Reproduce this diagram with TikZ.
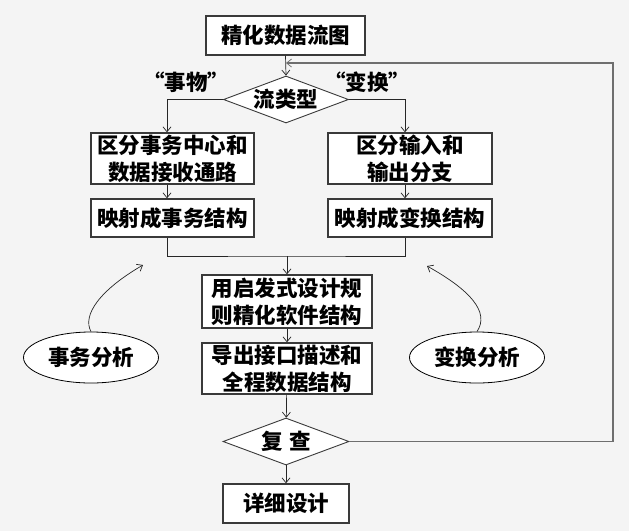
\documentclass[tikz,border=0pt]{standalone}
\usepackage{fontspec}
\usetikzlibrary{arrows.meta,shapes.geometric}
\newfontfamily\cjk{Noto Sans CJK SC}
\definecolor{Backdrop}{HTML}{F4F4F4}
\definecolor{BoxLine}{HTML}{3A3A3A}
\definecolor{LoopLine}{HTML}{6E6E6E}

\begin{document}
\begin{tikzpicture}[x=1pt,y=-1pt,font=\cjk\bfseries\fontsize{21.5pt}{27pt}\selectfont,>={Straight Barb[length=5pt,width=8pt]},box/.style={draw=BoxLine,line width=1.3pt,fill=white,inner sep=0pt,align=center},choice/.style={diamond,draw=BoxLine,line width=0.9pt,fill=white,inner sep=0pt,aspect=2.66},oval/.style={ellipse,draw=black,line width=0.8pt,fill=white,minimum width=135pt,minimum height=51pt},flow/.style={->,line width=0.7pt,draw=black!85}]
\fill[Backdrop] (0,0) rectangle (629,531);
\node[box,minimum width=159pt,minimum height=39pt] (dfd) at (285.5,35.5){精化数据流图};
\node[choice,minimum width=125pt,minimum height=47pt] (kind) at (286,99.5){流类型};
\node (qtx) at (186,82){“事物”};
\node (qtf) at (367,82){“变换”};
\node[box,minimum width=163pt,minimum height=51pt] (txsplit) at (172.5,158.5){区分事务中心和\\数据接收通路};
\node[box,minimum width=164pt,minimum height=51pt] (iosplit) at (410,158.5){区分输入和\\输出分支};
\node[box,minimum width=163pt,minimum height=38pt] (txmap) at (172.5,218){映射成事务结构};
\node[box,minimum width=164pt,minimum height=38pt] (tfmap) at (410,218){映射成变换结构};
\node[box,minimum width=170pt,minimum height=53pt] (refine) at (287,301.5){用启发式设计规\\则精化软件结构};
\node[box,minimum width=170pt,minimum height=51pt] (iface) at (287,368.5){导出接口描述和\\全程数据结构};
\node[choice,minimum width=126pt,minimum height=47pt] (review) at (286,441.5){复\hspace{7pt}查};
\node[box,minimum width=126pt,minimum height=39pt] (detail) at (286,503.5){详细设计};
\node[oval] (txa) at (91,357.5){事务分析};
\node[oval] (tfa) at (477,357.5){变换分析};
\coordinate (join) at (287,256);
\coordinate (loop) at (613,63);
\coordinate (txaTip) at (143,265);
\coordinate (tfaTip) at (427,266);
% main flow
\draw[flow] (dfd.south) -- (kind.north);
\draw[flow] (kind.west) -| ([xshift=-5.5pt]txsplit.north);
\draw[flow] (kind.east) -| ([xshift=-5pt]iosplit.north);
\draw[flow] ([xshift=-5.5pt]txsplit.south) -- ([xshift=-5.5pt]txmap.north);
\draw[flow] ([xshift=-5pt]iosplit.south) -- ([xshift=-5pt]tfmap.north);
\draw[line width=0.7pt,draw=black!85] ([xshift=-5.5pt]txmap.south) |- (join) -| ([xshift=-5pt]tfmap.south);
\draw[flow] (join) -- (refine.north);
\draw[flow] (refine) -- (iface);
\draw[flow] (iface) -- (review);
\draw[flow] (review) -- (detail);
% feedback loop
\draw[-{Straight Barb[length=5pt,width=8pt,line width=0.7pt]},draw=LoopLine,line width=1.5pt] (review.east) -| (loop) -- (loop -| kind.north);
% analysis hints
\draw[flow] (txa.north) .. controls (82,315) and (100,290) .. (txaTip);
\draw[flow] (tfa.north) .. controls (490,312) and (470,290) .. (tfaTip);
\end{tikzpicture}
\end{document}
